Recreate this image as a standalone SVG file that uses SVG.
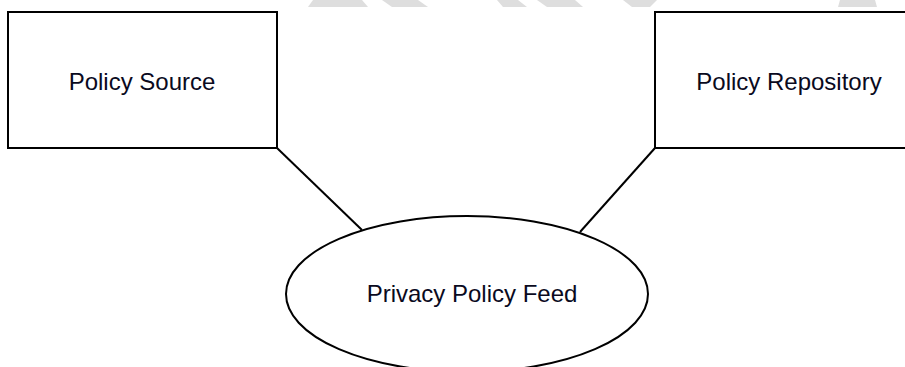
<svg xmlns="http://www.w3.org/2000/svg" width="905" height="367" viewBox="0 0 905 367">
<style>
.shape{fill:#fff;stroke:#000;stroke-width:2}
.conn{stroke:#000;stroke-width:2;fill:none}
.lbl{font-family:"Liberation Sans",Arial,sans-serif;font-size:24px;fill:#0a0a1e;text-anchor:middle}
.wm{fill:#dedede}
</style>
<rect width="905" height="367" fill="#fff"/>
<g id="watermark">
<polygon class="wm" points="313,0 362,0 368,7 308,7"/>
<polygon class="wm" points="382,0 418,0 428,7 392,7"/>
<polygon class="wm" points="497,0 518,0 527,7 503,7"/>
<polygon class="wm" points="537,0 575,0 583,7 547,7"/>
<polygon class="wm" points="623,0 657,0 650,7 632,7"/>
<polygon class="wm" points="840,0 875,0 877,7 838,7"/>
</g>
<g id="connectors">
<line class="conn" x1="277" y1="148" x2="362" y2="230"/>
<line class="conn" x1="655" y1="148" x2="580" y2="232"/>
</g>
<g id="policy-source">
<rect class="shape" x="8" y="12" width="269" height="136"/>
<text class="lbl" x="142" y="90">Policy Source</text>
</g>
<g id="policy-repository">
<rect class="shape" x="655" y="12" width="260" height="136"/>
<text class="lbl" x="789" y="90">Policy Repository</text>
</g>
<g id="privacy-policy-feed">
<ellipse class="shape" cx="467" cy="294" rx="181" ry="78"/>
<text class="lbl" x="472" y="302">Privacy Policy Feed</text>
</g>
</svg>
